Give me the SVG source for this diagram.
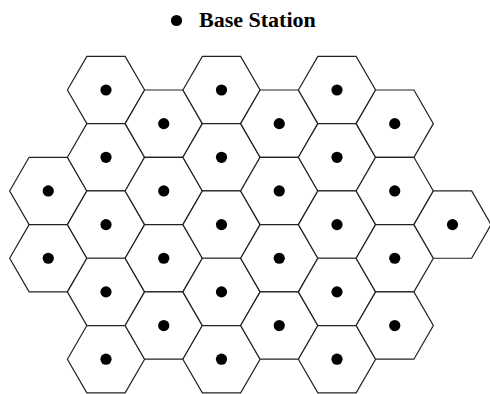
<svg xmlns="http://www.w3.org/2000/svg" xmlns:xlink="http://www.w3.org/1999/xlink" width="490" height="394" viewBox="0 0 490 394">
<style>
.hex{fill:#fff;stroke:#222;stroke-width:1.2;stroke-linejoin:miter}
.bs{fill:#000}
.title{font-family:"Liberation Serif","Times New Roman",serif;font-weight:bold;font-size:22px;fill:#000}
</style>
<defs>
<g id="cell">
<polygon class="hex" points="-38.6,0 -19.15,-33.65 19.15,-33.65 38.6,0 19.15,33.65 -19.15,33.65"/>
<circle class="bs" cx="0" cy="0" r="5.6"/>
</g>
</defs>
<rect width="490" height="394" fill="#fff"/>
<g id="legend">
<circle class="bs" cx="176.5" cy="20.5" r="5.6"/>
<text class="title" x="199" y="27">Base Station</text>
</g>
<g id="connectors"></g>
<g id="c0-3"><use xlink:href="#cell" transform="translate(48.25,190.95)"/></g>
<g id="c0-5"><use xlink:href="#cell" transform="translate(48.25,258.25)"/></g>
<g id="c1-0"><use xlink:href="#cell" transform="translate(106,90)"/></g>
<g id="c1-2"><use xlink:href="#cell" transform="translate(106,157.3)"/></g>
<g id="c1-4"><use xlink:href="#cell" transform="translate(106,224.6)"/></g>
<g id="c1-6"><use xlink:href="#cell" transform="translate(106,291.9)"/></g>
<g id="c1-8"><use xlink:href="#cell" transform="translate(106,359.2)"/></g>
<g id="c2-1"><use xlink:href="#cell" transform="translate(163.75,123.65)"/></g>
<g id="c2-3"><use xlink:href="#cell" transform="translate(163.75,190.95)"/></g>
<g id="c2-5"><use xlink:href="#cell" transform="translate(163.75,258.25)"/></g>
<g id="c2-7"><use xlink:href="#cell" transform="translate(163.75,325.55)"/></g>
<g id="c3-0"><use xlink:href="#cell" transform="translate(221.5,90)"/></g>
<g id="c3-2"><use xlink:href="#cell" transform="translate(221.5,157.3)"/></g>
<g id="c3-4"><use xlink:href="#cell" transform="translate(221.5,224.6)"/></g>
<g id="c3-6"><use xlink:href="#cell" transform="translate(221.5,291.9)"/></g>
<g id="c3-8"><use xlink:href="#cell" transform="translate(221.5,359.2)"/></g>
<g id="c4-1"><use xlink:href="#cell" transform="translate(279.25,123.65)"/></g>
<g id="c4-3"><use xlink:href="#cell" transform="translate(279.25,190.95)"/></g>
<g id="c4-5"><use xlink:href="#cell" transform="translate(279.25,258.25)"/></g>
<g id="c4-7"><use xlink:href="#cell" transform="translate(279.25,325.55)"/></g>
<g id="c5-0"><use xlink:href="#cell" transform="translate(337,90)"/></g>
<g id="c5-2"><use xlink:href="#cell" transform="translate(337,157.3)"/></g>
<g id="c5-4"><use xlink:href="#cell" transform="translate(337,224.6)"/></g>
<g id="c5-6"><use xlink:href="#cell" transform="translate(337,291.9)"/></g>
<g id="c5-8"><use xlink:href="#cell" transform="translate(337,359.2)"/></g>
<g id="c6-1"><use xlink:href="#cell" transform="translate(394.75,123.65)"/></g>
<g id="c6-3"><use xlink:href="#cell" transform="translate(394.75,190.95)"/></g>
<g id="c6-5"><use xlink:href="#cell" transform="translate(394.75,258.25)"/></g>
<g id="c6-7"><use xlink:href="#cell" transform="translate(394.75,325.55)"/></g>
<g id="c7-4"><use xlink:href="#cell" transform="translate(452.5,224.6)"/></g>
</svg>
